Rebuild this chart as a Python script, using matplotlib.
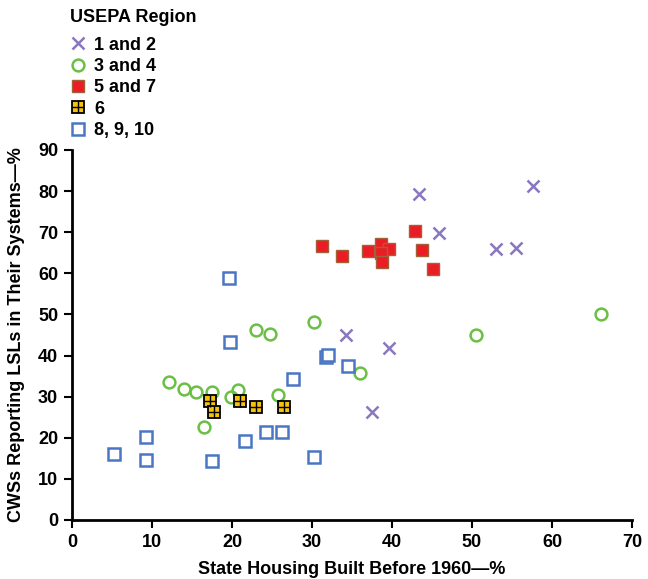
import matplotlib.pyplot as plt
from matplotlib.lines import Line2D
from matplotlib.legend_handler import HandlerTuple

plt.rcParams['font.family'] = ['Liberation Sans', 'DejaVu Sans']
plt.rcParams['font.weight'] = 'bold'

# USEPA regions 1 and 2
r12_x = [43.4, 57.6, 45.9, 53.0, 55.5, 34.3, 39.6, 37.5]
r12_y = [79.3, 81.3, 69.8, 65.9, 66.2, 45.0, 41.8, 26.3]

# regions 3 and 4
r34_x = [23.0, 24.75, 30.3, 50.5, 66.1, 12.1, 14.0, 15.5, 17.5, 20.8, 19.9,
         16.5, 25.75, 36.0]
r34_y = [46.2, 45.2, 48.1, 45.0, 50.0, 33.6, 31.9, 31.1, 31.1, 31.7, 29.9,
         22.7, 30.5, 35.7]

# regions 5 and 7
r57_x = [31.3, 33.75, 37.0, 38.6, 39.6, 38.6, 38.7, 42.9, 43.75, 45.1]
r57_y = [66.7, 64.3, 65.5, 67.2, 66.0, 64.9, 62.7, 70.3, 65.6, 61.1]

# region 6
r6_x = [17.2, 17.7, 21.0, 23.0, 26.5]
r6_y = [29.0, 26.2, 29.0, 27.4, 27.6]

# regions 8, 9, 10
r8_x = [19.6, 19.7, 31.7, 32.0, 34.5, 27.6, 9.3, 5.25, 9.3, 17.5, 21.6,
        24.3, 26.2, 30.25]
r8_y = [58.9, 43.2, 39.6, 40.1, 37.5, 34.2, 20.1, 16.0, 14.6, 14.4, 19.2,
        21.3, 21.4, 15.3]

labels = ['1 and 2', '3 and 4', '5 and 7', '6', '8, 9, 10']

purple = '#8a78bf'
green = '#6cbf45'
red = '#ec1c24'
brown = '#a0603a'
yellow = '#f4c20d'
blue = '#4a76c4'

fig = plt.figure(figsize=(6.48, 5.79), dpi=100)
ax = fig.add_axes([72 / 648, 59 / 579, 560 / 648, 370 / 579])

ax.plot(r12_x, r12_y, 'x', color=purple, ms=8, mew=1.8, ls='none')
ax.plot(r34_x, r34_y, 'o', mfc='none', mec=green, ms=8.5, mew=1.8, ls='none')
ax.plot(r57_x, r57_y, 's', mfc=red, mec=brown, ms=9, mew=1.0, ls='none')
ax.plot(r6_x, r6_y, 's', mfc=yellow, mec='black', ms=9, mew=1.3, ls='none')
ax.plot(r6_x, r6_y, '+', color='black', ms=9, mew=1.0, ls='none')
ax.plot(r8_x, r8_y, 's', mfc='white', mec=blue, ms=9, mew=1.8, ls='none')

ax.set_xlim(0, 70)
ax.set_ylim(0, 90)
ax.set_xticks(range(0, 71, 10))
ax.set_yticks(range(0, 91, 10))
for s in ['top', 'right']:
    ax.spines[s].set_visible(False)
for s in ['left', 'bottom']:
    ax.spines[s].set_linewidth(2)
ax.tick_params(direction='out', length=6, width=1.5, labelsize=13, pad=4)
for lbl in ax.get_xticklabels() + ax.get_yticklabels():
    lbl.set_fontweight('bold')

ax.set_xlabel('State Housing Built Before 1960\u2014%', fontsize=13,
              fontweight='bold', labelpad=7)
ax.set_ylabel('CWSs Reporting LSLs in Their Systems\u2014%', fontsize=13,
              fontweight='bold', labelpad=9)

# legend title sits apart from the entries
fig.text(70 / 648, 1 - 17 / 579, 'USEPA Region', fontsize=13,
         fontweight='bold', va='center', ha='left')

h12 = Line2D([], [], marker='x', color=purple, ms=8, mew=1.8, ls='none')
h34 = Line2D([], [], marker='o', mfc='none', mec=green, ms=8.5, mew=1.8, ls='none')
h57 = Line2D([], [], marker='s', mfc=red, mec=brown, ms=9, mew=1.0, ls='none')
h6a = Line2D([], [], marker='s', mfc=yellow, mec='black', ms=9, mew=1.3, ls='none')
h6b = Line2D([], [], marker='+', color='black', ms=9, mew=1.0, ls='none')
h8 = Line2D([], [], marker='s', mfc='white', mec=blue, ms=9, mew=1.8, ls='none')

leg = fig.legend([h12, h34, h57, (h6a, h6b), h8], labels,
                 handler_map={tuple: HandlerTuple(ndivide=1, pad=0)},
                 loc='upper left', bbox_to_anchor=(58 / 648, 1 - 25 / 579),
                 frameon=False,
                 prop={'size': 13, 'weight': 'bold'}, handlelength=0.9,
                 handletextpad=0.45, labelspacing=0.24, borderaxespad=0.25)

fig.savefig('out.png', dpi=100)
